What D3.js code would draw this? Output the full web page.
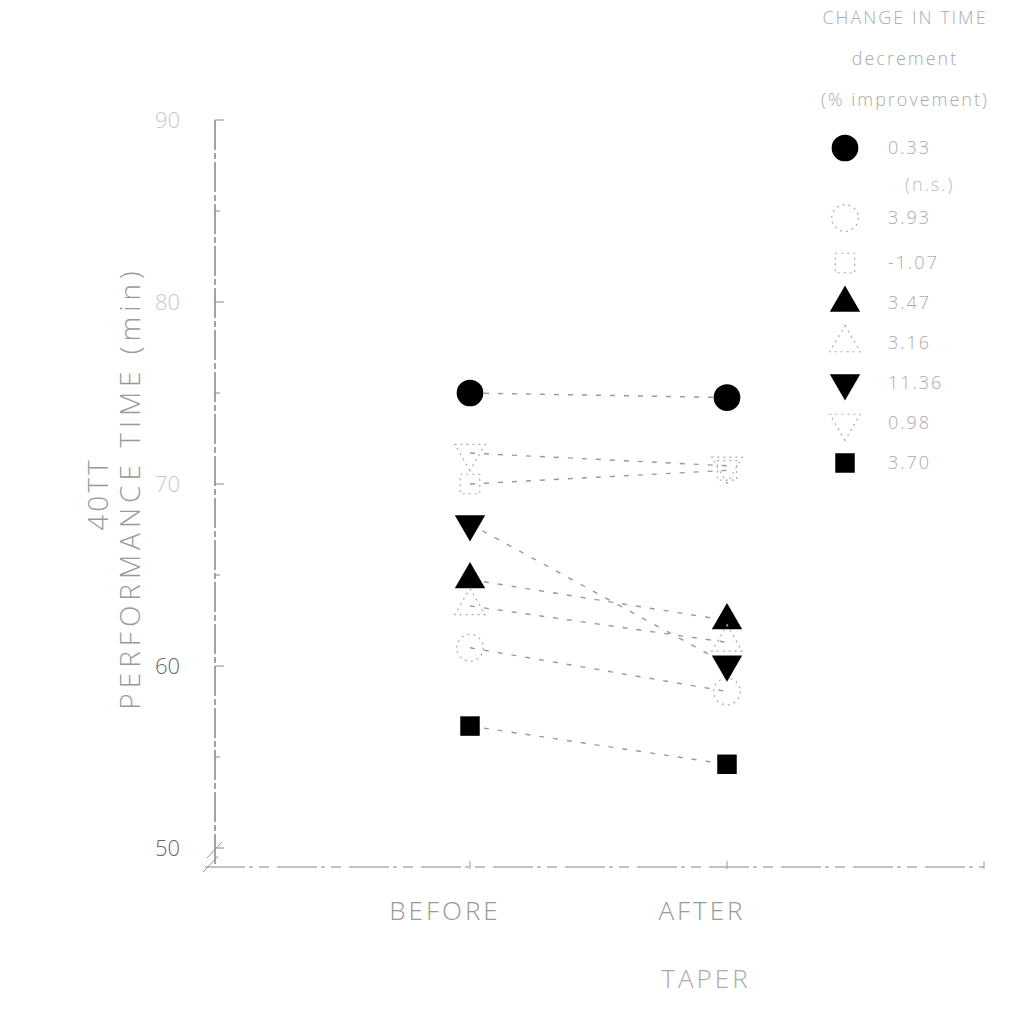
<!DOCTYPE html>
<html>
<head>
<meta charset="utf-8">
<script src="https://cdn.jsdelivr.net/npm/d3@7"></script>
<style>
  body { margin: 0; background: #fff; }
  svg text { font-family: "Open Sans", "DejaVu Sans", sans-serif; font-weight: 300; }
</style>
</head>
<body>
<svg id="chart" width="1034" height="1026"></svg>
<script>
// values (minutes)
var phases = ["BEFORE", "AFTER"];
var symbols = ["circle", "circle", "square", "triangle", "triangle", "triangleDown", "triangleDown", "square"];
var filled = [true, false, false, true, false, true, false, true];
var beforeTime = [75.0, 61.0, 70.0, 64.75, 63.3, 67.8, 71.7, 56.7];
var afterTime = [74.75, 58.6, 70.75, 62.5, 61.3, 60.1, 71.0, 54.6];
var legendLabels = ["0.33", "3.93", "-1.07", "3.47", "3.16", "11.36", "0.98", "3.70"];
var legendTitle = ["CHANGE IN TIME", "decrement", "(% improvement)"];
var yTicks = [50, 60, 70, 80, 90];

var svg = d3.select('#chart');

var y = d3.scaleLinear().domain([50, 90]).range([848, 120]);
// category positions: 1 = BEFORE, 2 = AFTER, 3 = empty slot at the end of the axis
var x = d3.scaleLinear().domain([0, 3]).range([213, 984]);
var axisX = 215, axisY = 867;

var symType = {
    circle: d3.symbolCircle,
    square: d3.symbolSquare,
    triangle: d3.symbolTriangle,
    triangleDown: d3.symbolTriangle
};
var symSize = { circle: 560, square: 380, triangle: 400, triangleDown: 400 };

function drawSymbol(g, i, cx, cy) {
    var s = symbols[i];
    var p = g.append('path')
        .attr('d', d3.symbol().type(symType[s]).size(symSize[s])())
        .attr('transform', 'translate(' + cx + ',' + cy + ')' + (s == 'triangleDown' ? ' rotate(180)' : ''));
    if (filled[i]) {
        p.attr('fill', '#000');
    } else {
        // the open symbols have almost faded out of the scan
        p.attr('fill', 'none').attr('stroke', '#aaa').attr('stroke-width', 1.2)
            .attr('stroke-dasharray', '2,4');
    }
}

// y axis
var gy = svg.append('g');
gy.append('line')
    .attr('x1', axisX).attr('x2', axisX)
    .attr('y1', y(90)).attr('y2', axisY)
    .attr('stroke', '#666').attr('stroke-width', 1.2)
    .attr('stroke-dasharray', '30,3,6,3');
d3.range(50, 91, 5).forEach(function (t) {
    gy.append('line')
        .attr('x1', axisX).attr('x2', axisX + (t % 10 == 0 ? 9 : 5))
        .attr('y1', y(t)).attr('y2', y(t))
        .attr('stroke', '#888').attr('stroke-width', 1);
});
gy.selectAll('text.tick').data(yTicks).enter().append('text')
    .attr('class', 'tick')
    .attr('x', 180).attr('y', function (d) { return y(d); })
    .attr('dy', '0.35em')
    .attr('text-anchor', 'end')
    .attr('font-size', 22)
    .attr('fill', function (d) { return d <= 60 ? '#666' : '#c8c8c8'; })
    .text(function (d) { return d; });

// axis break marks
gy.append('path')
    .attr('d', 'M207,858 L222,842 M203,872 L218,856')
    .attr('stroke', '#999').attr('stroke-width', 1).attr('fill', 'none');

// x axis
var gx = svg.append('g');
gx.append('line')
    .attr('x1', 205).attr('x2', x(3))
    .attr('y1', axisY).attr('y2', axisY)
    .attr('stroke', '#888').attr('stroke-width', 1.2)
    .attr('stroke-dasharray', '40,4,4,6,10,8');
[1, 2, 3].forEach(function (i) {
    gx.append('line')
        .attr('x1', x(i)).attr('x2', x(i))
        .attr('y1', axisY - 6).attr('y2', axisY + 2)
        .attr('stroke', '#999');
});
gx.selectAll('text.cat').data(phases).enter().append('text')
    .attr('class', 'cat')
    .attr('x', function (d, i) { return x(i + 1) - 25; })
    .attr('y', 920)
    .attr('text-anchor', 'middle')
    .attr('font-size', 26)
    .attr('letter-spacing', 3)
    .attr('fill', '#999')
    .text(function (d) { return d; });
gx.append('text')
    .attr('x', 706).attr('y', 988)
    .attr('text-anchor', 'middle')
    .attr('font-size', 26)
    .attr('letter-spacing', 3)
    .attr('fill', '#aaa')
    .text('TAPER');

// y title
svg.append('text')
    .attr('transform', 'translate(108,494) rotate(-90)')
    .attr('text-anchor', 'middle')
    .attr('font-size', 28)
    .attr('letter-spacing', 3)
    .attr('fill', '#999')
    .text('40TT');
svg.append('text')
    .attr('transform', 'translate(140,488) rotate(-90)')
    .attr('text-anchor', 'middle')
    .attr('font-size', 28)
    .attr('letter-spacing', 5)
    .attr('fill', '#999')
    .text('PERFORMANCE TIME (min)');

// connecting lines
var gl = svg.append('g');
beforeTime.forEach(function (b, i) {
    gl.append('line')
        .attr('x1', x(1)).attr('y1', y(b))
        .attr('x2', x(2)).attr('y2', y(afterTime[i]))
        .attr('stroke', '#999').attr('stroke-width', 1.4)
        .attr('stroke-dasharray', '5,9');
});

// points
var gp = svg.append('g');
beforeTime.forEach(function (b, i) {
    drawSymbol(gp, i, x(1), y(b));
    drawSymbol(gp, i, x(2), y(afterTime[i]));
});

// legend
var lg = svg.append('g');
lg.selectAll('text.title').data(legendTitle).enter().append('text')
    .attr('class', 'title')
    .attr('x', 905).attr('y', function (d, i) { return 24 + i * 41; })
    .attr('text-anchor', 'middle')
    .attr('font-size', 18)
    .attr('letter-spacing', 2)
    .attr('fill', '#aaa')
    .text(function (d) { return d; });
var rowY = [148, 218, 263, 303, 343, 383, 423, 463];
legendLabels.forEach(function (lab, i) {
    drawSymbol(lg, i, 845, rowY[i]);
    lg.append('text')
        .attr('x', 888).attr('y', rowY[i])
        .attr('dy', '0.35em')
        .attr('font-size', 18)
        .attr('letter-spacing', 2)
        .attr('fill', '#aaa')
        .text(lab);
});
lg.append('text')
    .attr('x', 905).attr('y', 185)
    .attr('dy', '0.35em')
    .attr('font-size', 18)
    .attr('letter-spacing', 2)
    .attr('fill', '#bbb')
    .text('(n.s.)');
</script>
</body>
</html>
